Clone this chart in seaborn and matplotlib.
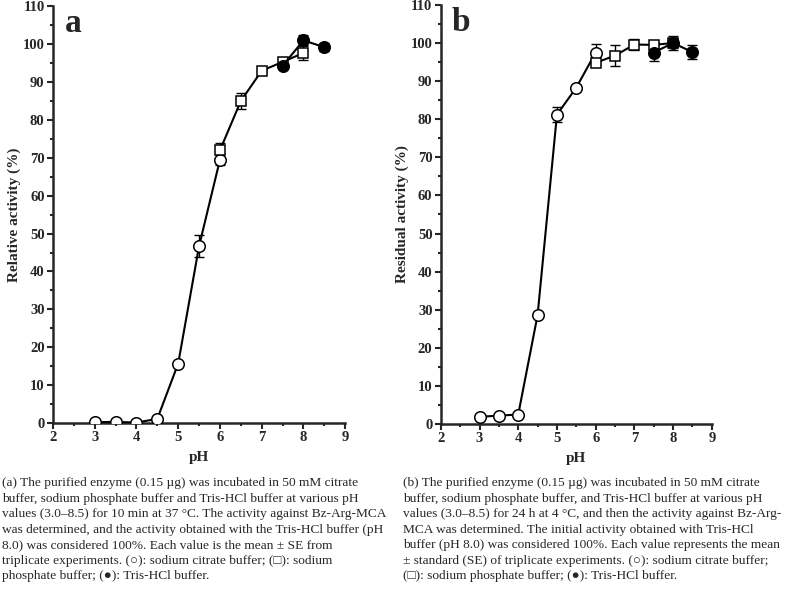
import numpy as np
import pandas as pd
import matplotlib
matplotlib.use('Agg')
import matplotlib.pyplot as plt
import seaborn as sns

sns.set_style('ticks')
plt.rcParams['font.family'] = ['Liberation Serif', 'DejaVu Sans']
plt.rcParams['font.weight'] = 'bold'

# ---- panel a: relative activity ----
a_cit_ph = [3.0, 3.5, 4.0, 4.5, 5.0, 5.5, 6.0]
a_cit_val = [0.2, 0.3, 0.1, 1.1, 15.7, 46.7, 69.5]
a_cit_err = [0, 0, 0, 0, 0, 3.0, 1.5]
a_pho_ph = [6.0, 6.5, 7.0, 7.5, 8.0]
a_pho_val = [72.0, 85.0, 93.0, 95.3, 97.7]
a_pho_err = [2.0, 2.0, 0.3, 1.0, 2.0]
a_tri_ph = [7.5, 8.0, 8.5]
a_tri_val = [94.3, 101.0, 99.2]
a_tri_err = [0.5, 1.5, 1.0]

# ---- panel b: residual activity ----
b_cit_ph = [3.0, 3.5, 4.0, 4.5, 5.0, 5.5, 6.0]
b_cit_val = [1.9, 2.2, 2.5, 28.6, 81.2, 88.3, 97.5]
b_cit_err = [0, 0, 0, 0, 2.0, 0.8, 2.2]
b_pho_ph = [6.0, 6.5, 7.0, 7.5, 8.0]
b_pho_val = [94.8, 96.7, 99.6, 99.5, 100.0]
b_pho_err = [0.5, 2.7, 1.4, 0.8, 1.8]
b_tri_ph = [7.5, 8.0, 8.5]
b_tri_val = [97.5, 100.0, 97.6]
b_tri_err = [2.2, 1.0, 1.8]

caption_a = ("(a) The purified enzyme (0.15 \u00b5g) was incubated in 50 mM citrate\n"
             "buffer, sodium phosphate buffer and Tris-HCl buffer at various pH\n"
             "values (3.0\u20138.5) for 10 min at 37 \u00b0C. The activity against Bz-Arg-MCA\n"
             "was determined, and the activity obtained with the Tris-HCl buffer (pH\n"
             "8.0) was considered 100%. Each value is the mean \u00b1 SE from\n"
             "triplicate experiments. (\u25cb): sodium citrate buffer; (\u25a1): sodium\n"
             "phosphate buffer; (\u25cf): Tris-HCl buffer.")
caption_b = ("(b) The purified enzyme (0.15 \u00b5g) was incubated in 50 mM citrate\n"
             "buffer, sodium phosphate buffer, and Tris-HCl buffer at various pH\n"
             "values (3.0\u20138.5) for 24 h at 4 \u00b0C, and then the activity against Bz-Arg-\n"
             "MCA was determined. The initial activity obtained with Tris-HCl\n"
             "buffer (pH 8.0) was considered 100%. Each value represents the mean\n"
             "\u00b1 standard (SE) of triplicate experiments. (\u25cb): sodium citrate buffer;\n"
             "(\u25a1): sodium phosphate buffer; (\u25cf): Tris-HCl buffer.")

fig = plt.figure(figsize=(7.9, 6.11), dpi=100)
ax_a = fig.add_axes([0.067, 0.3077, 0.370, 0.682])
ax_b = fig.add_axes([0.558, 0.306, 0.343, 0.686])

styles = [('o', 'white', 8.3), ('s', 'white', 7.8), ('o', 'black', 8.3)]


def draw_panel(ax, series, ylabel, letter):
    for (ph, val, err), (mk, fc, ms) in zip(series, styles):
        df = pd.DataFrame({'pH': ph, 'val': val})
        ax.errorbar(ph, val, yerr=err, fmt='none', ecolor='black',
                    elinewidth=1.0, capsize=3.5, capthick=1.0, zorder=2)
        sns.lineplot(data=df, x='pH', y='val', ax=ax, color='black', lw=1.5,
                     marker=mk, markersize=ms, markerfacecolor=fc,
                     markeredgecolor='black', markeredgewidth=1.1, zorder=3)
    ax.set_xlim(2, 9)
    ax.set_ylim(0, 110)
    ax.set_xticks(range(2, 10))
    ax.set_yticks(range(0, 111, 10))
    ax.set_xticks(np.arange(2.5, 9, 1), minor=True)
    ax.set_yticks(np.arange(5, 110, 10), minor=True)
    ax.tick_params(which='major', direction='out', length=4, width=1.5,
                   labelsize=10.5, pad=2)
    ax.tick_params(which='minor', direction='out', length=2.5, width=1.5)
    for lab in ax.get_xticklabels() + ax.get_yticklabels():
        lab.set_fontweight('bold')
    for s in ['left', 'bottom']:
        ax.spines[s].set_linewidth(1.8)
    sns.despine(ax=ax)
    ax.set_xlabel('pH', fontsize=11, fontweight='bold', labelpad=5)
    ax.set_ylabel(ylabel, fontsize=11, fontweight='bold', labelpad=1)
    ax.text(0.04, 0.995, letter, transform=ax.transAxes, fontsize=24,
            fontweight='bold', va='top', ha='left')


draw_panel(ax_a, [(a_cit_ph, a_cit_val, a_cit_err),
                  (a_pho_ph, a_pho_val, a_pho_err),
                  (a_tri_ph, a_tri_val, a_tri_err)],
           'Relative activity (%)', 'a')
draw_panel(ax_b, [(b_cit_ph, b_cit_val, b_cit_err),
                  (b_pho_ph, b_pho_val, b_pho_err),
                  (b_tri_ph, b_tri_val, b_tri_err)],
           'Residual activity (%)', 'b')

fig.text(0.003, 0.219, caption_a, fontsize=9.6, fontweight='normal',
         va='top', ha='left', linespacing=1.39)
fig.text(0.510, 0.219, caption_b, fontsize=9.6, fontweight='normal',
         va='top', ha='left', linespacing=1.39)

fig.savefig('out.png', dpi=100)
